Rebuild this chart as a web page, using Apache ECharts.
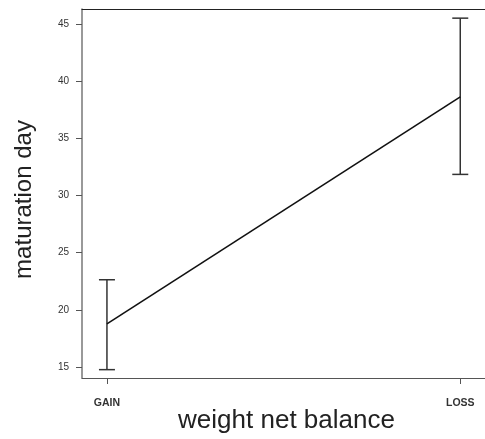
<!DOCTYPE html>
<html>
<head>
<meta charset="utf-8">
<script src="https://cdn.jsdelivr.net/npm/echarts@6/dist/echarts.min.js"></script>
<style>html,body{margin:0;padding:0;background:#fff;}#c{width:485px;height:439px;}</style>
</head>
<body>
<div id="c"></div>
<script>
const categories = ['GAIN', 'LOSS'];
const means = [18.77, 38.62];
const lowers = [14.77, 31.84];
const uppers = [22.63, 45.5];
const yTicks = [15, 20, 25, 30, 35, 40, 45];

const chart = echarts.init(document.getElementById('c'));
const font = 'Liberation Sans, Arial, sans-serif';
const meanData = means.map((v, i) => [i, v]);
const errData = categories.map((c, i) => [i, lowers[i], uppers[i]]);

chart.setOption({
  animation: false,
  backgroundColor: '#fff',
  grid: { left: 82, right: 0, top: 9, bottom: 61, show: false, containLabel: false, outerBoundsMode: 'none' },
  xAxis: [{
    type: 'value',
    min: -0.0706, max: 1.07,
    name: 'weight net balance',
    nameLocation: 'middle',
    nameGap: 30,
    nameMoveOverlap: false,
    nameTextStyle: { fontFamily: font, fontSize: 26, color: '#222', padding: [0, 0, 0, 6] },
    axisLine: { show: true, onZero: false, lineStyle: { color: '#555', width: 1 } },
    axisTick: { show: true, length: 6, lineStyle: { color: '#555' }, customValues: [0, 1] },
    axisLabel: {
      customValues: [0, 1],
      formatter: v => categories[Math.round(v)],
      fontFamily: font, fontSize: 10.5, fontWeight: 'bold', color: '#333', margin: 20
    },
    splitLine: { show: false }
  }, {
    type: 'value', position: 'top',
    min: -0.0706, max: 1.07,
    axisLine: { show: true, onZero: false, lineStyle: { color: '#222', width: 1 } },
    axisTick: { show: false }, axisLabel: { show: false }, splitLine: { show: false }
  }],
  yAxis: {
    type: 'value',
    min: 14.04, max: 46.3,
    name: 'maturation day',
    nameLocation: 'middle',
    nameGap: 46,
    nameMoveOverlap: false,
    nameTextStyle: { fontFamily: font, fontSize: 24, color: '#222', padding: [0, 12, 0, 0] },
    axisLine: { show: true, onZero: false, lineStyle: { color: '#777', width: 1.5 } },
    axisTick: { show: true, length: 6, lineStyle: { color: '#555' }, customValues: yTicks },
    axisLabel: { customValues: yTicks, fontFamily: font, fontSize: 10, color: '#333', margin: 13 },
    splitLine: { show: false }
  },
  series: [{
    type: 'line',
    data: meanData,
    symbol: 'none',
    lineStyle: { color: '#111', width: 1.6 },
    z: 3
  }, {
    type: 'custom',
    data: errData,
    renderItem: function (params, api) {
      const x = api.value(0);
      const lo = api.coord([x, api.value(1)]);
      const hi = api.coord([x, api.value(2)]);
      const hw = 8;
      const style = { stroke: '#333', lineWidth: 1.5 };
      return {
        type: 'group',
        children: [
          { type: 'line', shape: { x1: lo[0], y1: lo[1], x2: hi[0], y2: hi[1] }, style },
          { type: 'line', shape: { x1: lo[0] - hw, y1: lo[1], x2: lo[0] + hw, y2: lo[1] }, style },
          { type: 'line', shape: { x1: hi[0] - hw, y1: hi[1], x2: hi[0] + hw, y2: hi[1] }, style }
        ]
      };
    },
    z: 2
  }]
});
</script>
</body>
</html>
